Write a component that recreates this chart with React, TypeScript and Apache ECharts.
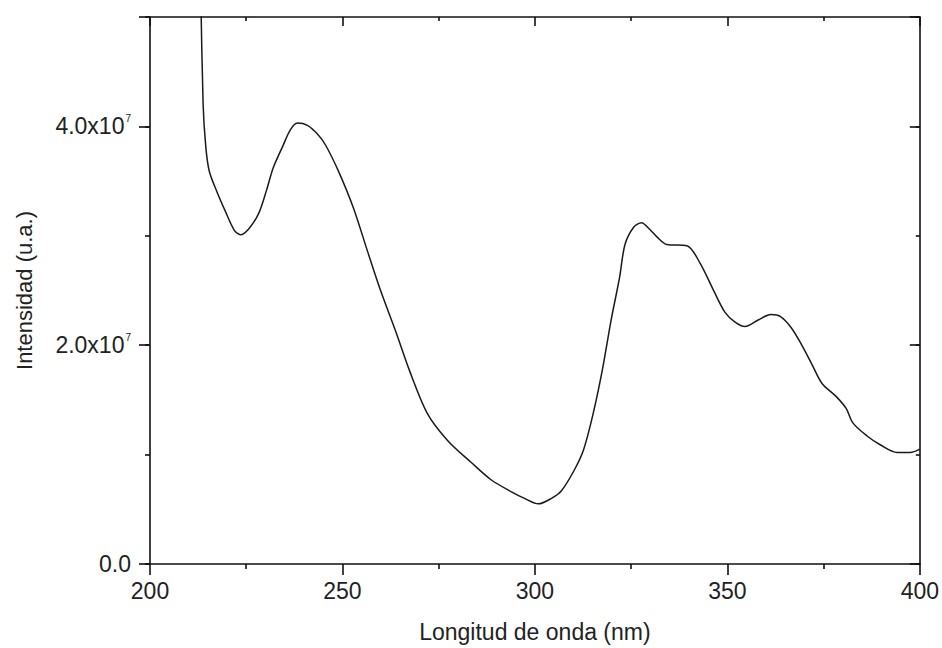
import React, { useEffect, useRef } from "react";
import * as echarts from "echarts";

// Wavelength (nm)
const wavelength = [
  213.1, 213.8, 214.5, 215.4, 217.3, 219.5, 221.9, 223.5, 225.8, 228.3, 230.3,
  232.0, 234.5, 236.5, 238.3, 240.9, 243.5, 245.6, 249.1, 252.9, 256.5, 260.0,
  263.8, 267.4, 272.0, 277.3, 283.4, 288.6, 293.9, 297.3, 300.9, 304.3, 306.9,
  310.1, 312.6, 315.1, 317.5, 319.8, 322.0, 323.4, 325.7, 327.7, 329.8, 331.7,
  334.3, 339.5, 342.9, 346.7, 349.4, 352.0, 354.6, 358.0, 361.3, 363.9, 366.6,
  369.2, 371.9, 374.6, 378.3, 380.9, 382.6, 386.3, 389.7, 394.1, 397.5, 400.0,
];
// Intensity in units of 1e7 (u.a.)
const intensity = [
  5.4, 4.2, 3.81, 3.59, 3.41, 3.23, 3.05, 3.01, 3.07, 3.21, 3.42,
  3.62, 3.82, 3.97, 4.03, 4.01, 3.93, 3.83, 3.58, 3.25, 2.86, 2.49,
  2.13, 1.77, 1.38, 1.13, 0.93, 0.77, 0.66, 0.6, 0.55, 0.6, 0.67,
  0.85, 1.04, 1.37, 1.77, 2.23, 2.62, 2.92, 3.08, 3.12, 3.06, 2.99,
  2.92, 2.91, 2.75, 2.48, 2.3, 2.21, 2.17, 2.23, 2.28, 2.26, 2.16,
  2.01, 1.83, 1.65, 1.53, 1.42, 1.29, 1.17, 1.09, 1.02, 1.02, 1.05,
];
const SCALE = 1e7;
const xTicks = [200, 250, 300, 350, 400];
const yMajorTicks = [0, 2e7, 4e7];

const xTitle = "Longitud de onda (nm)";
const yTitle = "Intensidad (u.a.)";

const FONT = "Liberation Sans";

export default function App() {
  const ref = useRef<HTMLDivElement>(null);
  useEffect(() => {
    if (!ref.current) return;
    const chart = echarts.init(ref.current, null, { renderer: "svg" });
    const data = wavelength.map((w, i) => [w, intensity[i] * SCALE]);
    const lineStyle = { color: "#111", width: 1.6 };
    const baseX = {
      type: "value",
      min: xTicks[0],
      max: xTicks[xTicks.length - 1],
      interval: 50,
      splitLine: { show: false },
      axisLine: { show: true, onZero: false, lineStyle },
    };
    const baseY = {
      type: "value",
      min: 0,
      max: 5e7,
      splitLine: { show: false },
    };
    chart.setOption({
      animation: false,
      backgroundColor: "#fff",
      grid: { left: 150, right: 22, top: 17, bottom: 84 },
      xAxis: [
        {
          ...baseX,
          position: "bottom",
          axisTick: { show: true, inside: false, length: 11, lineStyle },
          minorTick: { show: true, splitNumber: 2, length: 5, lineStyle },
          axisLabel: {
            show: true,
            margin: 15,
            fontFamily: FONT,
            fontSize: 23,
            color: "#222",
          },
          name: xTitle,
          nameLocation: "middle",
          nameGap: 56,
          nameTextStyle: { fontFamily: FONT, fontSize: 23, color: "#222" },
        },
        {
          ...baseX,
          position: "top",
          axisTick: { show: true, inside: true, length: 9, lineStyle },
          minorTick: { show: true, splitNumber: 2, length: 4, lineStyle },
          axisLabel: { show: false },
        },
      ],
      yAxis: [
        {
          ...baseY,
          position: "left",
          interval: 2e7,
          axisLine: { show: true, onZero: false, lineStyle },
          axisTick: { show: true, inside: false, length: 11, lineStyle },
          axisLabel: {
            show: true,
            margin: 19,
            fontFamily: FONT,
            fontSize: 23,
            color: "#222",
            formatter: (v: number) => {
              if (!yMajorTicks.includes(v)) return "";
              if (v === 0) return "{m|0.0}";
              return `{m|${(v / SCALE).toFixed(1)}x10}{e|7}`;
            },
            rich: {
              m: { fontFamily: FONT, fontSize: 23, color: "#222" },
              e: {
                fontFamily: FONT,
                fontSize: 10,
                color: "#222",
                padding: [0, 0, 15, 1],
              },
            },
          },
          name: yTitle,
          nameLocation: "middle",
          nameRotate: 90,
          nameGap: 115,
          nameTextStyle: { fontFamily: FONT, fontSize: 22, color: "#222" },
        },
        {
          ...baseY,
          position: "left",
          interval: 1e7,
          axisLine: { show: false },
          axisTick: { show: true, inside: false, length: 5, lineStyle },
          axisLabel: { show: false },
        },
        {
          ...baseY,
          position: "right",
          interval: 2e7,
          axisLine: { show: true, onZero: false, lineStyle },
          axisTick: { show: true, inside: true, length: 10, lineStyle },
          axisLabel: { show: false },
        },
        {
          ...baseY,
          position: "right",
          interval: 1e7,
          axisLine: { show: false },
          axisTick: { show: true, inside: true, length: 4, lineStyle },
          axisLabel: { show: false },
        },
      ],
      series: [
        {
          type: "line",
          data,
          xAxisIndex: 0,
          yAxisIndex: 0,
          showSymbol: false,
          smooth: 0.3,
          clip: true,
          lineStyle: { color: "#1a1a1a", width: 1.5 },
        },
      ],
    });
    return () => chart.dispose();
  }, []);
  return (
    <div
      ref={ref}
      style={{ position: "fixed", left: 0, top: 0, width: 942, height: 648 }}
    />
  );
}
